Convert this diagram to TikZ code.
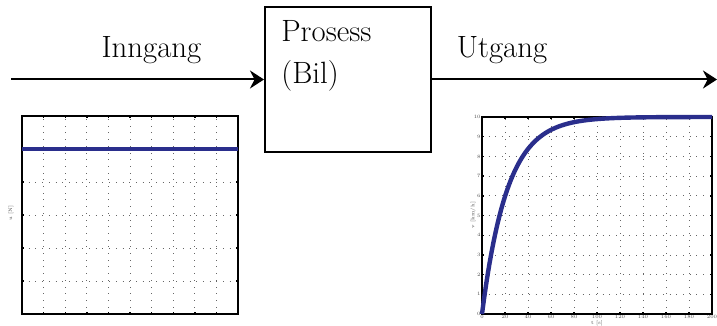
\documentclass[tikz,border=0pt]{standalone}
\usepackage{tikz}
\usetikzlibrary{arrows.meta}
\definecolor{plotblue}{RGB}{42,46,140}

\begin{document}
\begin{tikzpicture}[x=0.5pt,y=-0.5pt,
    arr/.style={line width=1pt,-{Stealth[length=7pt,width=9pt]}},
    blockbox/.style={draw,line width=1pt,minimum width=83pt,minimum height=72.5pt,inner sep=0pt},
    lbl/.style={font=\fontsize{15.4}{18}\selectfont,inner sep=0pt},
    gridline/.style={line width=0.35pt,black!60,dash pattern=on 0.35pt off 3pt},
    frame/.style={line width=0.7pt},
    curve/.style={plotblue,line width=2.2pt},
    ticklbl/.style={font=\fontsize{2.5}{3}\selectfont,inner sep=0.5pt,black!70}]
    \useasboundingbox (0,0) rectangle (717,326);

    % draw process block
    \node[blockbox] (proc) at (348,79.5) {};
    \node[lbl,anchor=base west] (proctxt) at (281,42) {Prosess};
    \node[lbl,anchor=base west] (bil) at (281,84) {(Bil)};

    % draw arrows
    \coordinate (start) at (11,79.5);
    \coordinate (end) at (717,79.5);
    \draw[arr] (start) -- (proc.west);
    \draw[arr] (proc.east) -- (end);
    \node[lbl,anchor=base] (inn) at (151.5,58) {Inngang};
    \node[lbl,anchor=base] (utg) at (502,58) {Utgang};

    % input plot
    \begin{scope}[shift={(22,314)},x=10.8pt,y=82.5pt]
        \foreach \i in {1,...,9} {
            \draw[gridline] (\i,0) -- (\i,1.2);
            \draw[frame] (\i,0) -- ++(0,1pt) (\i,1.2) -- ++(0,-1pt);
        }
        \foreach \j in {1,...,5} {
            \draw[gridline] (0,\j*0.2) -- (10,\j*0.2);
            \draw[frame] (0,\j*0.2) -- ++(1pt,0) (10,\j*0.2) -- ++(-1pt,0);
        }
        \draw[frame] (0,0) rectangle (10,1.2);
        \draw[curve] (0,1) -- (10,1);
    \end{scope}
    \node[ticklbl,rotate=90] (ulbl) at (11,213) {u [N]};

    % output plot
    \begin{scope}[shift={(482,314)},x=0.575pt,y=9.85pt]
        \foreach \i in {20,40,...,180} \draw[gridline] (\i,0) -- (\i,10);
        \foreach \j in {1,...,9} \draw[gridline] (0,\j) -- (200,\j);
        \foreach \i in {0,20,...,200} {
            \draw[frame] (\i,0) -- ++(0,1pt) (\i,10) -- ++(0,-1pt);
            \node[ticklbl,anchor=north] (xt\i) at (\i,0) {\i};
        }
        \foreach \j in {0,...,10} {
            \draw[frame] (0,\j) -- ++(1pt,0) (200,\j) -- ++(-1pt,0);
            \node[ticklbl,anchor=east] (yt\j) at (0,\j) {\j};
        }
        \draw[frame] (0,0) rectangle (200,10);
        \draw[curve] plot[domain=0:200,samples=120] (\x,{10*(1-exp(-\x/22))});
    \end{scope}
    \node[ticklbl,rotate=90] (vlbl) at (473,215) {v [km/h]};
    \node[ticklbl] (tlbl) at (597,323) {t [s]};
\end{tikzpicture}
\end{document}
